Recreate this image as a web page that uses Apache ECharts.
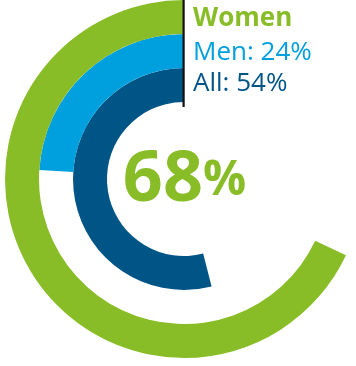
<!DOCTYPE html>
<html>
<head>
<meta charset="utf-8">
<script src="https://cdn.jsdelivr.net/npm/echarts@6/dist/echarts.min.js"></script>
<style>
  html, body { margin: 0; padding: 0; background: #ffffff; }
  #chart { width: 356px; height: 366px; }
</style>
</head>
<body>
<div id="chart"></div>
<script>
// Ring order runs from the innermost ring outward
const groups = ['All', 'Men', 'Women'];
const shares = [54, 24, 68];
const ringColors = ['#005587', '#00a0df', '#89bd28'];
const legendLines = ['Women', 'Men: 24%', 'All: 54%'];
const headline = '68';

const chart = echarts.init(document.getElementById('chart'), null, { renderer: 'canvas' });
const FONT = '"Open Sans", sans-serif';

chart.setOption({
  animation: false,
  polar: { center: [184, 179], radius: [77, 179] },
  angleAxis: {
    type: 'value', min: 0, max: 100, startAngle: 90, clockwise: false,
    show: false
  },
  radiusAxis: {
    type: 'category', data: groups, show: false
  },
  series: [{
    type: 'bar',
    coordinateSystem: 'polar',
    barCategoryGap: '0%',
    data: shares.map((v, i) => ({ value: v, itemStyle: { color: ringColors[i] } }))
  }],
  graphic: [
    { type: 'rect', shape: { x: 182.5, y: 0, width: 2.2, height: 107 }, style: { fill: '#111' }, z: 10 },
    { type: 'text', x: 193, y: 18.5, style: { text: legendLines[0], font: 'bold 26px ' + FONT, fill: '#89bd28', verticalAlign: 'middle' } },
    { type: 'text', x: 193, y: 53, style: { text: legendLines[1], font: '26px ' + FONT, fill: '#00a0df', verticalAlign: 'middle' } },
    { type: 'text', x: 193, y: 84, style: { text: legendLines[2], font: '26px ' + FONT, fill: '#005587', verticalAlign: 'middle' } },
    { type: 'text', x: 184.5, y: 181, style: {
        text: '{a|' + headline + '}{b|%}', align: 'center', verticalAlign: 'middle',
        rich: {
          a: { font: 'bold 70px ' + FONT, fill: '#89bd28', color: '#89bd28' },
          b: { font: 'bold 48px ' + FONT, fill: '#89bd28', color: '#89bd28' }
        }
    } }
  ]
});
</script>
</body>
</html>
